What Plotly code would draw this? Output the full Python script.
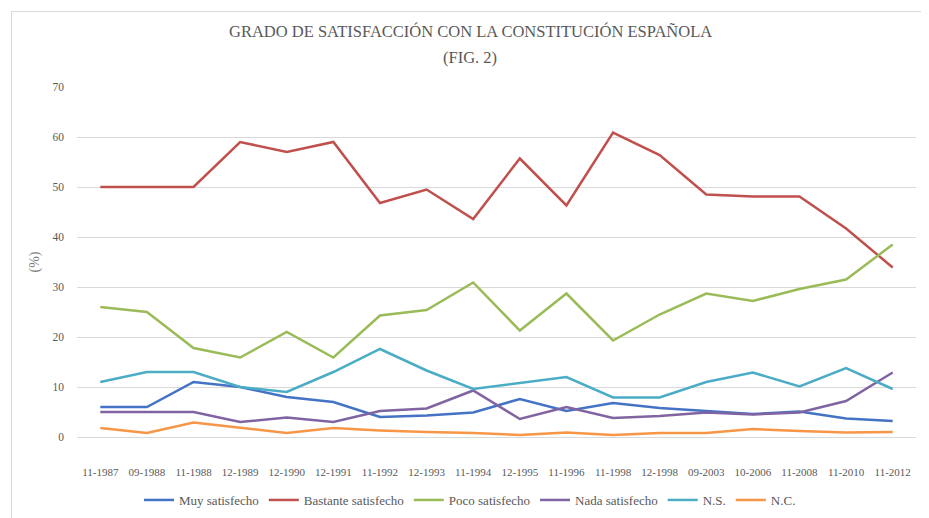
import plotly.graph_objects as go

categories = ["11-1987", "09-1988", "11-1988", "12-1989", "12-1990", "12-1991",
              "11-1992", "12-1993", "11-1994", "12-1995", "11-1996", "11-1998",
              "12-1998", "09-2003", "10-2006", "11-2008", "11-2010", "11-2012"]

muy_satisfecho = [6, 6, 11, 10, 8, 7, 4, 4.3, 4.9, 7.6, 5.2, 6.8, 5.8, 5.2, 4.6, 5.1, 3.7, 3.2]
bastante_satisfecho = [50, 50, 50, 59, 57, 59, 46.8, 49.5, 43.6, 55.7, 46.3, 60.9, 56.4, 48.5, 48.1, 48.1, 41.7, 33.9]
poco_satisfecho = [26, 25, 17.8, 15.9, 21, 15.9, 24.3, 25.4, 30.9, 21.3, 28.7, 19.3, 24.5, 28.7, 27.2, 29.6, 31.5, 38.5]
nada_satisfecho = [5, 5, 5, 3, 3.9, 3, 5.2, 5.7, 9.3, 3.6, 6, 3.8, 4.2, 4.9, 4.5, 4.9, 7.2, 12.9]
ns = [11, 13, 13, 10, 9, 13, 17.6, 13.3, 9.6, 10.8, 12, 7.9, 7.9, 11, 12.9, 10.1, 13.8, 9.6]
nc = [1.8, 0.8, 2.9, 1.8, 0.8, 1.8, 1.3, 1.0, 0.8, 0.4, 0.9, 0.4, 0.8, 0.8, 1.6, 1.2, 0.9, 1.0]

series = [
    ("Muy satisfecho", muy_satisfecho, "#4472C4"),
    ("Bastante satisfecho", bastante_satisfecho, "#C0504D"),
    ("Poco satisfecho", poco_satisfecho, "#9BBB59"),
    ("Nada satisfecho", nada_satisfecho, "#8064A2"),
    ("N.S.", ns, "#4BACC6"),
    ("N.C.", nc, "#F79646"),
]

FONT = "Liberation Serif, Times New Roman, DejaVu Serif, serif"
GREY = "#595959"

# page body has an 8px margin: figure origin sits at page (8, 8)
OFF = 8
PL, PR, PT, PB = 77, 916, 87, 437   # plot area in page pixels
W, H = 929 - OFF, 518 - OFF
PW, PH = PR - PL, PB - PT


def px(x):
    return (x - PL) / PW


def py(y):
    return (PB - y) / PH


fig = go.Figure()
for name, vals, color in series:
    fig.add_trace(go.Scatter(x=categories, y=vals, mode="lines", name=name,
                             line=dict(color=color, width=2.5)))

fig.update_layout(
    width=W, height=H,
    margin=dict(l=PL - OFF, r=W - (PR - OFF), t=PT - OFF, b=H - (PB - OFF), autoexpand=False),
    paper_bgcolor="white", plot_bgcolor="white",
    font=dict(family=FONT, color=GREY, size=11),
    showlegend=True,
    legend=dict(orientation="h", x=px(470), xanchor="center", y=py(500), yanchor="middle",
                font=dict(family=FONT, size=13, color=GREY), itemwidth=30,
                tracegroupgap=0, traceorder="normal"),
    xaxis=dict(type="category", range=[-0.5, len(categories) - 0.5],
               showgrid=False, showline=True, linecolor="#d9d9d9", automargin=False,
               linewidth=1, ticks="", ticklabelstandoff=25,
               tickfont=dict(family=FONT, size=11, color=GREY), fixedrange=True),
    yaxis=dict(range=[0, 70], dtick=10, showgrid=True, gridcolor="#d9d9d9", gridwidth=1,
               zeroline=True, zerolinecolor="#d9d9d9", showline=False, ticks="",
               ticklabelstandoff=12, automargin=False,
               tickfont=dict(family=FONT, size=11.5, color=GREY),
               title=dict(text="(%)", font=dict(family=FONT, size=14, color="#7f7f7f"),
                          standoff=9)),
    annotations=[
        dict(text="GRADO DE SATISFACCIÓN CON LA CONSTITUCIÓN ESPAÑOLA", xref="paper", yref="paper",
             x=px(470), y=py(31), xanchor="center", yanchor="middle",
             showarrow=False, font=dict(family=FONT, size=16.5, color=GREY)),
        dict(text="(FIG. 2)", xref="paper", yref="paper",
             x=px(470), y=py(57), xanchor="center", yanchor="middle",
             showarrow=False, font=dict(family=FONT, size=16.5, color=GREY)),
    ],
    shapes=[
        dict(type="rect", xref="paper", yref="paper",
             x0=px(11.5), x1=px(927.5), y0=py(530), y1=py(11.5),
             line=dict(color="#d9d9d9", width=1), layer="below"),
    ],
)

fig.write_html("out.html")
